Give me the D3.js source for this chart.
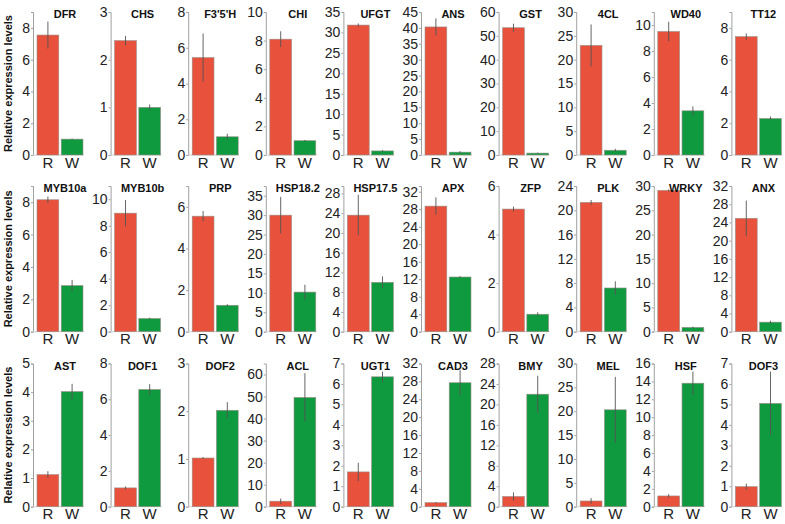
<!DOCTYPE html>
<html><head><meta charset="utf-8">
<script src="https://cdn.jsdelivr.net/npm/d3@7"></script>
<style>body{margin:0;background:#fff}svg{display:block}</style>
</head><body><svg id="c" width="785" height="524"></svg>
<script>
const genes = ["DFR","CHS","F3'5'H","CHI","UFGT","ANS","GST","4CL","WD40","TT12",
"MYB10a","MYB10b","PRP","HSP18.2","HSP17.5","APX","ZFP","PLK","WRKY","ANX",
"AST","DOF1","DOF2","ACL","UGT1","CAD3","BMY","MEL","HSF","DOF3"];
const samples = ["R","W"];
const rMean = [7.55,2.4,5.45,8.1,31.8,40.3,53.4,23.0,9.5,7.45,
8.15,8.95,5.55,30,23.6,28.7,5.05,21.3,29.1,24.9,
1.12,1.05,1.02,2.5,1.7,0.9,2.0,1.2,1.2,0.98];
const rErr = [0.85,0.1,1.35,0.55,0.4,2.7,1.7,4.4,0.75,0.2,
0.2,1.0,0.25,4.7,4.1,2.0,0.1,0.4,0.2,3.9,
0.12,0.08,0.02,1.2,0.45,0.15,0.8,0.6,0.2,0.15];
const wMean = [1.0,1.0,1.02,1.0,1.0,0.9,0.8,1.0,3.4,2.3,
2.85,1.0,1.27,10.2,10.0,12.5,0.72,7.2,0.9,2.1,
4.02,6.55,2.02,49.6,6.35,27.7,22,20.3,13.8,5.05];
const wErr = [0.03,0.06,0.17,0.05,0.2,0.3,0.2,0.3,0.35,0.12,
0.35,0.06,0.05,1.9,1.2,0.2,0.08,1.1,0.15,0.3,
0.27,0.3,0.17,11,0.25,2.8,3.6,6.9,1.3,1.55];
const yMax = [9,3,8,10,35,45,60,30,11,9,
9,11,7,37.5,29.5,33.3,6,24,30,32,
5,8,3,65,7,32,28,30,16,7];
const tickStep = [2,1,2,2,5,5,10,5,2,2,
2,2,2,5,4,4,2,4,5,4,
1,2,1,10,1,4,4,5,2,1];
const yTitle = "Relative expression levels";

const svg = d3.select("#c");
const rowTop = [12, 186, 363.5];
const rowBottom = [155, 331.7, 506.7];
const colors = {R:"#e8513b", W:"#0f9a3f"};
const font = "Liberation Sans, Arial, sans-serif";

genes.forEach((g, i) => {
  const row = Math.floor(i / 10), col = i % 10;
  const x0 = 37 + 77.6 * col;
  const x = d3.scaleBand().domain(samples).range([x0, x0 + 46]).paddingInner(0.1);
  const y = d3.scaleLinear().domain([0, yMax[i]]).range([rowBottom[row], rowTop[row]]);
  const gp = svg.append("g");
  const ticks = d3.range(0, yMax[i] + 1e-9, tickStep[i]);
  const ax = gp.append("g").attr("transform", `translate(${x0 - 4},0)`)
    .call(d3.axisLeft(y).tickValues(ticks).tickFormat(d3.format("d")).tickSize(2).tickPadding(1));
  ax.select(".domain").attr("stroke", "#a0a0a0").attr("stroke-width", 1);
  ax.selectAll(".tick line").attr("stroke", "#a0a0a0");
  ax.selectAll(".tick text").attr("font-family", font).attr("font-size", 14).attr("fill", "#222");
  gp.append("line").attr("x1", x0 - 4).attr("x2", x0 + 47)
    .attr("y1", y(0)).attr("y2", y(0)).attr("stroke", "#d0d0d0").attr("stroke-width", 1);
  const data = [
    {s:"R", v:rMean[i], e:rErr[i]},
    {s:"W", v:wMean[i], e:wErr[i]}
  ];
  gp.selectAll("rect.bar").data(data).enter().append("rect")
    .attr("x", d => x(d.s)).attr("width", x.bandwidth())
    .attr("y", d => y(d.v)).attr("height", d => y(0) - y(d.v))
    .attr("fill", d => colors[d.s]).attr("stroke", "#9a8f8a").attr("stroke-width", 0.6);
  gp.selectAll("line.err").data(data).enter().append("line")
    .attr("x1", d => x(d.s) + x.bandwidth() / 2).attr("x2", d => x(d.s) + x.bandwidth() / 2)
    .attr("y1", d => y(d.v + d.e)).attr("y2", d => y(Math.max(0, d.v - d.e)))
    .attr("stroke", "#555").attr("stroke-width", 0.9);
  gp.selectAll("text.xl").data(samples).enter().append("text")
    .attr("x", d => x(d) + x.bandwidth() / 2).attr("y", rowBottom[row] + 12.5)
    .attr("text-anchor", "middle").attr("font-family", font).attr("font-size", 15)
    .attr("fill", "#222").text(d => d);
  gp.append("text").attr("x", x0 + 28).attr("y", rowTop[row] + 6)
    .attr("text-anchor", "middle").attr("font-family", font).attr("font-size", 11)
    .attr("font-weight", "bold").attr("fill", "#111").text(g);
});

[0,1,2].forEach(r => {
  const cy = (rowTop[r] + rowBottom[r]) / 2;
  svg.append("text").attr("transform", `translate(12,${cy}) rotate(-90)`)
    .attr("text-anchor", "middle").attr("font-family", font).attr("font-size", 11)
    .attr("font-weight", "bold").attr("fill", "#111").text(yTitle);
});
</script></body></html>
